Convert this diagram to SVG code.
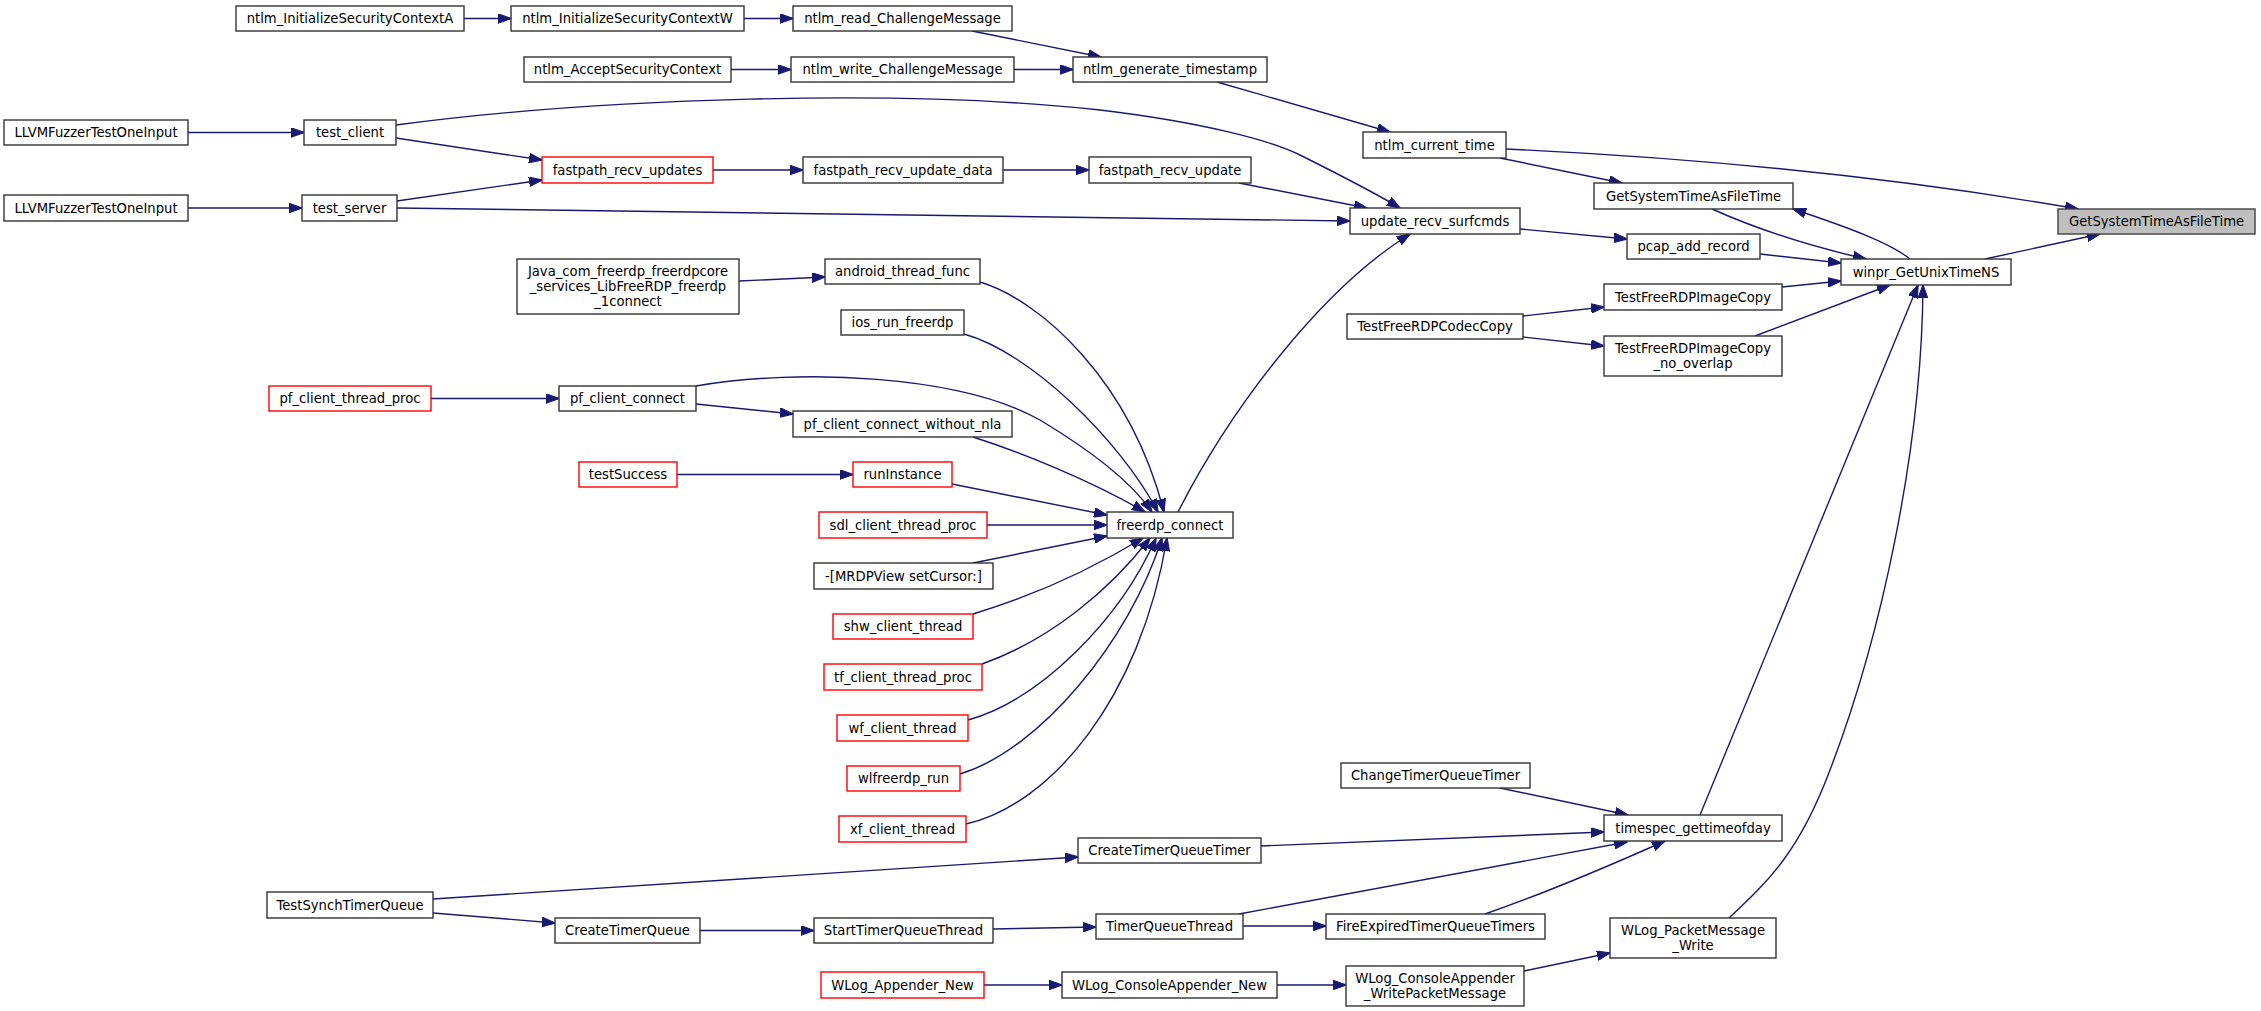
<svg xmlns="http://www.w3.org/2000/svg" width="2261" height="1011" viewBox="0 0 2261 1011">
<style>
.n rect{fill:#fff;stroke:#333;stroke-width:1.4}
.n.r rect{stroke:#ff0000}
.n.t rect{fill:#bfbfbf;stroke:#404040}
.n text{font-family:"DejaVu Sans",sans-serif;font-size:13.2px;fill:#000;text-anchor:middle}
.e path{fill:none;stroke:#191970;stroke-width:1.4;marker-end:url(#ah)}
</style>
<defs>
<marker id="ah" viewBox="0 0 14 10" refX="13" refY="5" markerWidth="14" markerHeight="10" markerUnits="userSpaceOnUse" orient="auto">
<path d="M0,0.2 L13.5,5 L0,9.8 Z" fill="#191970" stroke="#191970" stroke-width="1"/>
</marker>
</defs>
<rect width="2261" height="1011" fill="#fff"/>
<g id="edges" class="e">
<path d="M464,18.5 L511,18.5"/>
<path d="M744,18.5 L793,18.5"/>
<path d="M972,31 L1101,57"/>
<path d="M731,69.5 L791,69.5"/>
<path d="M1014,69.5 L1073,69.5"/>
<path d="M1217,82 L1390,132"/>
<path d="M1500,158 L1622,183"/>
<path d="M1506,149 C1700,158 1900,178 2078,209"/>
<path d="M1985,259 L2100,234"/>
<path d="M1712,209 C1750,226 1800,244 1866,259"/>
<path d="M1910,259 C1890,243 1850,228 1793,209"/>
<path d="M1520,229 L1627,239"/>
<path d="M1760,254 L1841,263"/>
<path d="M1782,287 L1841,281"/>
<path d="M1755,336 L1890,285"/>
<path d="M1523,316 L1604,307"/>
<path d="M1523,337 L1604,346"/>
<path d="M1700,815 L1918,285"/>
<path d="M1729,918 C1770,880 1800,850 1830,770 C1880,640 1922,450 1923,285"/>
<path d="M396,125 C600,98 900,88 1100,110 C1200,122 1270,140 1300,155 C1340,175 1370,190 1400,208"/>
<path d="M1239,183 L1367,208"/>
<path d="M397,208 L1350,221"/>
<path d="M1178,512 C1230,410 1320,290 1410,234"/>
<path d="M396,138 L542,160"/>
<path d="M397,201 L542,180"/>
<path d="M188,132.5 L304,132.5"/>
<path d="M188,208 L302,208"/>
<path d="M713,170 L803,170"/>
<path d="M1003,170 L1089,170"/>
<path d="M739,281 L825,277"/>
<path d="M980,282 C1040,300 1130,380 1164,512"/>
<path d="M964,334 C1030,352 1120,440 1158,512"/>
<path d="M696,386 C800,368 960,375 1040,420 C1090,450 1130,480 1152,512"/>
<path d="M696,404 L793,414"/>
<path d="M973,437 C1020,452 1090,480 1145,512"/>
<path d="M431,398.5 L559,398.5"/>
<path d="M677,474.5 L853,474.5"/>
<path d="M952,484 L1107,515"/>
<path d="M987,525 L1107,525"/>
<path d="M973,563 L1107,536"/>
<path d="M973,614 C1030,597 1090,570 1143,538"/>
<path d="M982,664 C1050,640 1110,590 1150,538"/>
<path d="M968,720 C1040,700 1120,620 1156,538"/>
<path d="M960,774 C1040,750 1130,640 1162,538"/>
<path d="M966,824 C1050,805 1140,700 1167,538"/>
<path d="M1500,788 L1628,815"/>
<path d="M1261,846 L1604,832"/>
<path d="M433,899 L1078,857"/>
<path d="M433,913 L555,923"/>
<path d="M700,930.5 L814,930.5"/>
<path d="M993,929 L1096,927"/>
<path d="M1243,926 L1326,926"/>
<path d="M1239,914 L1627,842"/>
<path d="M1485,914 C1540,895 1600,870 1665,841"/>
<path d="M984,985 L1062,985"/>
<path d="M1277,985 L1346,985"/>
<path d="M1524,971 L1610,953"/>
</g>
<g id="n_initA" class="n"><rect x="236" y="6" width="228" height="25"/><text x="350" y="23">ntlm_InitializeSecurityContextA</text></g>
<g id="n_initW" class="n"><rect x="511" y="6" width="233" height="25"/><text x="627.5" y="23">ntlm_InitializeSecurityContextW</text></g>
<g id="n_readChal" class="n"><rect x="793" y="6" width="219" height="25"/><text x="902.5" y="23">ntlm_read_ChallengeMessage</text></g>
<g id="n_accept" class="n"><rect x="524" y="57" width="207" height="25"/><text x="627.5" y="74">ntlm_AcceptSecurityContext</text></g>
<g id="n_writeChal" class="n"><rect x="791" y="57" width="223" height="25"/><text x="902.5" y="74">ntlm_write_ChallengeMessage</text></g>
<g id="n_genTs" class="n"><rect x="1073" y="57" width="194" height="25"/><text x="1170" y="74">ntlm_generate_timestamp</text></g>
<g id="n_curTime" class="n"><rect x="1363" y="132" width="143" height="26"/><text x="1434.5" y="149.5">ntlm_current_time</text></g>
<g id="n_llvm1" class="n"><rect x="4" y="120" width="184" height="25"/><text x="96" y="137">LLVMFuzzerTestOneInput</text></g>
<g id="n_testClient" class="n"><rect x="304" y="120" width="92" height="25"/><text x="350" y="137">test_client</text></g>
<g id="n_fpUpdates" class="n r"><rect x="542" y="157" width="171" height="26"/><text x="627.5" y="174.5">fastpath_recv_updates</text></g>
<g id="n_fpUpdData" class="n"><rect x="803" y="157" width="200" height="26"/><text x="903" y="174.5">fastpath_recv_update_data</text></g>
<g id="n_fpUpd" class="n"><rect x="1089" y="157" width="162" height="26"/><text x="1170" y="174.5">fastpath_recv_update</text></g>
<g id="n_llvm2" class="n"><rect x="4" y="195" width="184" height="26"/><text x="96" y="212.5">LLVMFuzzerTestOneInput</text></g>
<g id="n_testServer" class="n"><rect x="302" y="195" width="95" height="26"/><text x="349.5" y="212.5">test_server</text></g>
<g id="n_surfcmds" class="n"><rect x="1350" y="208" width="170" height="26"/><text x="1435" y="225.5">update_recv_surfcmds</text></g>
<g id="n_gstaftMid" class="n"><rect x="1594" y="183" width="199" height="26"/><text x="1693.5" y="200.5">GetSystemTimeAsFileTime</text></g>
<g id="n_pcap" class="n"><rect x="1627" y="234" width="133" height="25"/><text x="1693.5" y="251">pcap_add_record</text></g>
<g id="n_winpr" class="n"><rect x="1841" y="259" width="170" height="26"/><text x="1926" y="276.5">winpr_GetUnixTimeNS</text></g>
<g id="n_target" class="n t"><rect x="2058" y="209" width="197" height="25"/><text x="2156.5" y="226">GetSystemTimeAsFileTime</text></g>
<g id="n_imgCopy" class="n"><rect x="1604" y="284" width="178" height="26"/><text x="1693" y="301.5">TestFreeRDPImageCopy</text></g>
<g id="n_imgCopyNo" class="n"><rect x="1604" y="336" width="178" height="40"/><text x="1693" y="353">TestFreeRDPImageCopy</text><text x="1693" y="368">_no_overlap</text></g>
<g id="n_codecCopy" class="n"><rect x="1347" y="314" width="176" height="25"/><text x="1435" y="331">TestFreeRDPCodecCopy</text></g>
<g id="n_java" class="n"><rect x="517" y="259" width="222" height="55"/><text x="628" y="276">Java_com_freerdp_freerdpcore</text><text x="628" y="291">_services_LibFreeRDP_freerdp</text><text x="628" y="306">_1connect</text></g>
<g id="n_android" class="n"><rect x="825" y="259" width="155" height="25"/><text x="902.5" y="276">android_thread_func</text></g>
<g id="n_ios" class="n"><rect x="841" y="310" width="123" height="25"/><text x="902.5" y="327">ios_run_freerdp</text></g>
<g id="n_pfThread" class="n r"><rect x="269" y="386" width="162" height="25"/><text x="350" y="403">pf_client_thread_proc</text></g>
<g id="n_pfConnect" class="n"><rect x="559" y="386" width="137" height="25"/><text x="627.5" y="403">pf_client_connect</text></g>
<g id="n_pfNoNla" class="n"><rect x="793" y="411" width="219" height="26"/><text x="902.5" y="428.5">pf_client_connect_without_nla</text></g>
<g id="n_testSuccess" class="n r"><rect x="579" y="462" width="98" height="25"/><text x="628" y="479">testSuccess</text></g>
<g id="n_runInstance" class="n r"><rect x="853" y="462" width="99" height="25"/><text x="902.5" y="479">runInstance</text></g>
<g id="n_sdl" class="n r"><rect x="819" y="512" width="168" height="26"/><text x="903" y="529.5">sdl_client_thread_proc</text></g>
<g id="n_freerdp" class="n"><rect x="1107" y="512" width="126" height="26"/><text x="1170" y="529.5">freerdp_connect</text></g>
<g id="n_mrdp" class="n"><rect x="814" y="563" width="179" height="26"/><text x="903.5" y="580.5">-[MRDPView setCursor:]</text></g>
<g id="n_shw" class="n r"><rect x="833" y="614" width="140" height="25"/><text x="903" y="631">shw_client_thread</text></g>
<g id="n_tf" class="n r"><rect x="824" y="664" width="158" height="26"/><text x="903" y="681.5">tf_client_thread_proc</text></g>
<g id="n_wf" class="n r"><rect x="837" y="715" width="131" height="26"/><text x="902.5" y="732.5">wf_client_thread</text></g>
<g id="n_wl" class="n r"><rect x="847" y="766" width="113" height="25"/><text x="903.5" y="783">wlfreerdp_run</text></g>
<g id="n_xf" class="n r"><rect x="839" y="816" width="127" height="26"/><text x="902.5" y="833.5">xf_client_thread</text></g>
<g id="n_changeTQT" class="n"><rect x="1341" y="763" width="189" height="25"/><text x="1435.5" y="780">ChangeTimerQueueTimer</text></g>
<g id="n_timespec" class="n"><rect x="1604" y="815" width="178" height="26"/><text x="1693" y="832.5">timespec_gettimeofday</text></g>
<g id="n_createTQT" class="n"><rect x="1078" y="838" width="183" height="25"/><text x="1169.5" y="855">CreateTimerQueueTimer</text></g>
<g id="n_testSynch" class="n"><rect x="267" y="892" width="166" height="26"/><text x="350" y="909.5">TestSynchTimerQueue</text></g>
<g id="n_createTQ" class="n"><rect x="555" y="918" width="145" height="25"/><text x="627.5" y="935">CreateTimerQueue</text></g>
<g id="n_startTQT" class="n"><rect x="814" y="918" width="179" height="25"/><text x="903.5" y="935">StartTimerQueueThread</text></g>
<g id="n_tqThread" class="n"><rect x="1096" y="914" width="147" height="25"/><text x="1169.5" y="931">TimerQueueThread</text></g>
<g id="n_fireExp" class="n"><rect x="1326" y="914" width="219" height="25"/><text x="1435.5" y="931">FireExpiredTimerQueueTimers</text></g>
<g id="n_pktWrite" class="n"><rect x="1610" y="918" width="166" height="40"/><text x="1693" y="935">WLog_PacketMessage</text><text x="1693" y="950">_Write</text></g>
<g id="n_appNew" class="n r"><rect x="821" y="972" width="163" height="26"/><text x="902.5" y="989.5">WLog_Appender_New</text></g>
<g id="n_consNew" class="n"><rect x="1062" y="972" width="215" height="26"/><text x="1169.5" y="989.5">WLog_ConsoleAppender_New</text></g>
<g id="n_consWrite" class="n"><rect x="1346" y="966" width="178" height="40"/><text x="1435" y="983">WLog_ConsoleAppender</text><text x="1435" y="998">_WritePacketMessage</text></g>
</svg>
